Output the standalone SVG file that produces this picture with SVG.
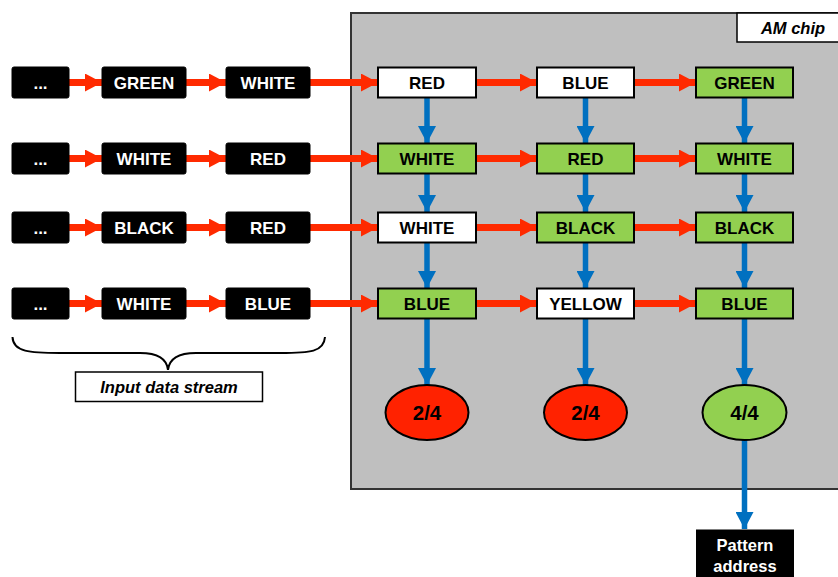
<svg xmlns="http://www.w3.org/2000/svg" width="838" height="577" viewBox="0 0 838 577">
<defs>
<marker id="ra" markerUnits="userSpaceOnUse" markerWidth="18" markerHeight="18" refX="17" refY="9" orient="auto"><path d="M0,0 L17,9 L0,18 Z" fill="#FF2A00"/></marker>
<marker id="ba" markerUnits="userSpaceOnUse" markerWidth="18" markerHeight="18" refX="17" refY="9" orient="auto"><path d="M0,0 L17,9 L0,18 Z" fill="#0070C0"/></marker>
</defs>
<style>
text{font-family:"Liberation Sans",Arial,sans-serif;font-weight:bold;font-size:17px;text-anchor:middle}
.in rect{fill:#000;stroke:#000;stroke-width:1;rx:2}
.in text{fill:#fff}
.c rect{stroke:#000;stroke-width:2}
.w rect{fill:#fff}
.g rect{fill:#92D050}
.r{stroke:#FF2A00;stroke-width:7;fill:none;marker-end:url(#ra)}
.b{stroke:#0070C0;stroke-width:5.5;fill:none;marker-end:url(#ba)}
.it{font-style:italic;font-size:16.5px}
.e text{font-size:20.5px}
</style>
<rect id="chip" x="351" y="13" width="500" height="476" fill="#BFBFBF" stroke="#333" stroke-width="2"/>
<g id="amchip"><rect x="737" y="13" width="110" height="29" fill="#fff" stroke="#000" stroke-width="1.5"/><text class="it" x="793" y="33.5">AM chip</text></g>

<g id="connectors">
<line class="r" x1="69" y1="82.5" x2="102" y2="82.5"/>
<line class="r" x1="186" y1="82.5" x2="226" y2="82.5"/>
<line class="r" x1="310" y1="82.5" x2="378" y2="82.5"/>
<line class="r" x1="476" y1="82.5" x2="537" y2="82.5"/>
<line class="r" x1="634" y1="82.5" x2="696" y2="82.5"/>
<line class="r" x1="69" y1="158.5" x2="102" y2="158.5"/>
<line class="r" x1="186" y1="158.5" x2="226" y2="158.5"/>
<line class="r" x1="310" y1="158.5" x2="378" y2="158.5"/>
<line class="r" x1="476" y1="158.5" x2="537" y2="158.5"/>
<line class="r" x1="634" y1="158.5" x2="696" y2="158.5"/>
<line class="r" x1="69" y1="227.5" x2="102" y2="227.5"/>
<line class="r" x1="186" y1="227.5" x2="226" y2="227.5"/>
<line class="r" x1="310" y1="227.5" x2="378" y2="227.5"/>
<line class="r" x1="476" y1="227.5" x2="537" y2="227.5"/>
<line class="r" x1="634" y1="227.5" x2="696" y2="227.5"/>
<line class="r" x1="69" y1="303.5" x2="102" y2="303.5"/>
<line class="r" x1="186" y1="303.5" x2="226" y2="303.5"/>
<line class="r" x1="310" y1="303.5" x2="378" y2="303.5"/>
<line class="r" x1="476" y1="303.5" x2="537" y2="303.5"/>
<line class="r" x1="634" y1="303.5" x2="696" y2="303.5"/>
<line class="b" x1="427" y1="98" x2="427" y2="143"/>
<line class="b" x1="585.5" y1="98" x2="585.5" y2="143"/>
<line class="b" x1="744.5" y1="98" x2="744.5" y2="143"/>
<line class="b" x1="427" y1="174" x2="427" y2="212"/>
<line class="b" x1="585.5" y1="174" x2="585.5" y2="212"/>
<line class="b" x1="744.5" y1="174" x2="744.5" y2="212"/>
<line class="b" x1="427" y1="243" x2="427" y2="288"/>
<line class="b" x1="585.5" y1="243" x2="585.5" y2="288"/>
<line class="b" x1="744.5" y1="243" x2="744.5" y2="288"/>
<line class="b" x1="427" y1="318" x2="427" y2="385"/>
<line class="b" x1="585.5" y1="318" x2="585.5" y2="385"/>
<line class="b" x1="744.5" y1="318" x2="744.5" y2="385"/>
<line class="b" x1="744.5" y1="440" x2="744.5" y2="529"/>
</g>

<g id="in-r1a" class="in"><rect x="12" y="67" width="57" height="31"/><text x="40.5" y="88.5">...</text></g>
<g id="in-r1b" class="in"><rect x="102" y="67" width="84" height="31"/><text x="144" y="89">GREEN</text></g>
<g id="in-r1c" class="in"><rect x="226" y="67" width="84" height="31"/><text x="268" y="89">WHITE</text></g>
<g id="in-r2a" class="in"><rect x="12" y="143" width="57" height="31"/><text x="40.5" y="164.5">...</text></g>
<g id="in-r2b" class="in"><rect x="102" y="143" width="84" height="31"/><text x="144" y="165">WHITE</text></g>
<g id="in-r2c" class="in"><rect x="226" y="143" width="84" height="31"/><text x="268" y="165">RED</text></g>
<g id="in-r3a" class="in"><rect x="12" y="212" width="57" height="31"/><text x="40.5" y="233.5">...</text></g>
<g id="in-r3b" class="in"><rect x="102" y="212" width="84" height="31"/><text x="144" y="234">BLACK</text></g>
<g id="in-r3c" class="in"><rect x="226" y="212" width="84" height="31"/><text x="268" y="234">RED</text></g>
<g id="in-r4a" class="in"><rect x="12" y="288" width="57" height="31"/><text x="40.5" y="309.5">...</text></g>
<g id="in-r4b" class="in"><rect x="102" y="288" width="84" height="31"/><text x="144" y="310">WHITE</text></g>
<g id="in-r4c" class="in"><rect x="226" y="288" width="84" height="31"/><text x="268" y="310">BLUE</text></g>

<g id="c11" class="c w"><rect x="378" y="67.5" width="98" height="30"/><text x="427" y="89">RED</text></g>
<g id="c12" class="c w"><rect x="537" y="67.5" width="97" height="30"/><text x="585.5" y="89">BLUE</text></g>
<g id="c13" class="c g"><rect x="696" y="67.5" width="97" height="30"/><text x="744.5" y="89">GREEN</text></g>
<g id="c21" class="c g"><rect x="378" y="143.5" width="98" height="30"/><text x="427" y="165">WHITE</text></g>
<g id="c22" class="c g"><rect x="537" y="143.5" width="97" height="30"/><text x="585.5" y="165">RED</text></g>
<g id="c23" class="c g"><rect x="696" y="143.5" width="97" height="30"/><text x="744.5" y="165">WHITE</text></g>
<g id="c31" class="c w"><rect x="378" y="212.5" width="98" height="30"/><text x="427" y="234">WHITE</text></g>
<g id="c32" class="c g"><rect x="537" y="212.5" width="97" height="30"/><text x="585.5" y="234">BLACK</text></g>
<g id="c33" class="c g"><rect x="696" y="212.5" width="97" height="30"/><text x="744.5" y="234">BLACK</text></g>
<g id="c41" class="c g"><rect x="378" y="288.5" width="98" height="30"/><text x="427" y="310">BLUE</text></g>
<g id="c42" class="c w"><rect x="537" y="288.5" width="97" height="30"/><text x="585.5" y="310">YELLOW</text></g>
<g id="c43" class="c g"><rect x="696" y="288.5" width="97" height="30"/><text x="744.5" y="310">BLUE</text></g>

<g id="e1" class="e"><ellipse cx="427" cy="412.5" rx="41.5" ry="27.5" fill="#FF2200" stroke="#000" stroke-width="2"/><text x="427" y="420">2/4</text></g>
<g id="e2" class="e"><ellipse cx="585.5" cy="412.5" rx="41.5" ry="27.5" fill="#FF2200" stroke="#000" stroke-width="2"/><text x="585.5" y="420">2/4</text></g>
<g id="e3" class="e"><ellipse cx="744.5" cy="412.5" rx="42" ry="27.5" fill="#92D050" stroke="#000" stroke-width="2"/><text x="744.5" y="420">4/4</text></g>

<g id="pattern"><rect x="696" y="529.5" width="98" height="60" fill="#000"/><text x="745" y="551" fill="#fff" style="font-size:16.5px">Pattern</text><text x="745" y="571.5" fill="#fff" style="font-size:16.5px">address</text></g>

<g id="brace"><path d="M12.5,337 C13,352 30,353 60,353 L140,353 C160,353 167,360 168,370 C169,360 176,353 196,353 L280,353 C310,353 324,352 325,337" fill="none" stroke="#000" stroke-width="2"/></g>
<g id="input-label"><rect x="75.5" y="372" width="187" height="29.5" fill="#fff" stroke="#000" stroke-width="1.5"/><text class="it" x="169" y="392.5">Input data stream</text></g>
</svg>
